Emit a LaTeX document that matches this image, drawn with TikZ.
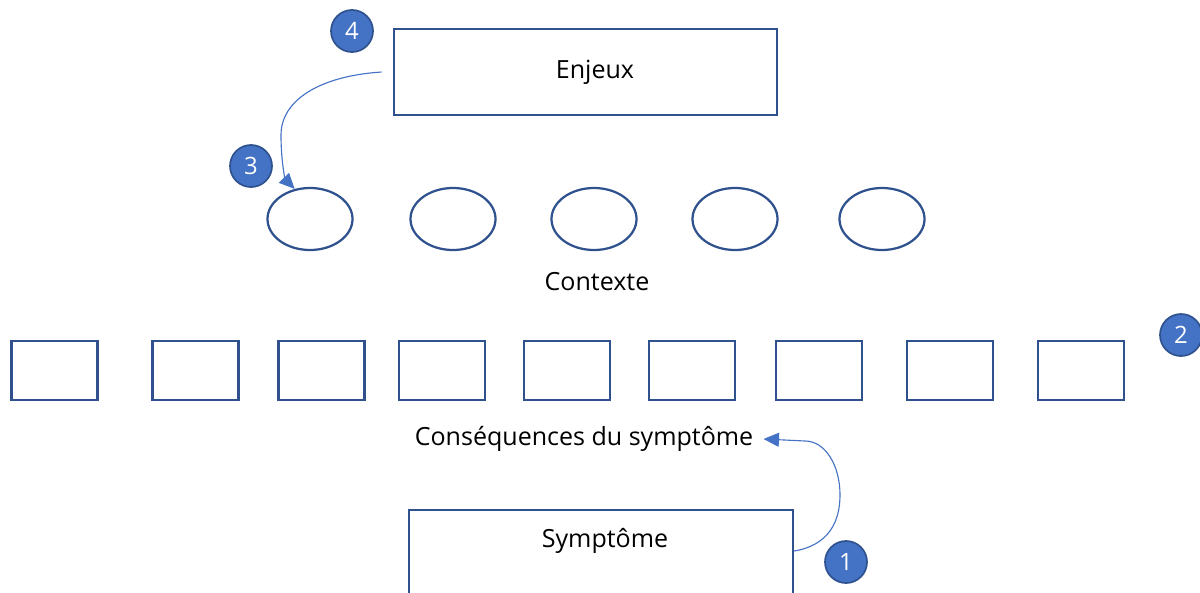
\documentclass[tikz,border=0pt]{standalone}
\usepackage{fontspec}
\setmainfont{Open Sans}
\usetikzlibrary{shapes.geometric,arrows.meta}
\definecolor{boxblue}{HTML}{2F528F}
\definecolor{arrowblue}{HTML}{4472C4}
\tikzset{
    box/.style={draw=boxblue, line width=1.6pt, rectangle, inner sep=0pt},
    oval/.style={draw=boxblue, line width=1.6pt, ellipse, inner sep=0pt,
        minimum width=2.125cm, minimum height=1.55cm},
    badge/.style={circle, fill=arrowblue, draw=boxblue, line width=1.2pt,
        minimum size=1.05cm, inner sep=0pt, text=white,
        font=\fontsize{17}{20}\selectfont},
    label text/.style={font=\fontsize{17.8}{21}\selectfont, inner sep=0pt},
    curve arrow/.style={draw=arrowblue, line width=0.8pt,
        -{Triangle[length=11pt,width=10pt]}}
}
\begin{document}
\begin{tikzpicture}[x=0.025cm,y=-0.025cm]
    \useasboundingbox (0,0) rectangle (1200,592);
    % top
    \node[box, minimum width=9.575cm, minimum height=2.15cm] (enjeux) at (585.5,72) {};
    \node[label text] at (595,72) {Enjeux};
    \node[badge] (b4) at (352,31) {4};
    \node[badge] (b3) at (251,166) {3};
    % contexte
    \foreach \x [count=\i] in {310,453,594,735,882}
        \node[oval] (ctx\i) at (\x,219) {};
    \node[label text] (contexte) at (597,282) {Contexte};
    % consequences
    \foreach \x [count=\i] in {54.5,195.5,321.5,442,567,692,819,950,1081}
        \node[box, minimum width=2.15cm, minimum height=1.475cm] (csq\i) at (\x,370.5) {};
    \node[badge] (b2) at (1181,335) {2};
    \node[label text] (conseq) at (584,439) {Conséquences du symptôme};
    % symptome
    \node[box, anchor=north, minimum width=9.6cm, minimum height=3cm] (symptome) at (601,509) {};
    \node[label text] at (605,541) {Symptôme};
    \node[badge] (b1) at (846,562) {1};
    % arrows
    \draw[curve arrow] ([xshift=-0.28cm]enjeux.west) .. controls (320,76) and (281,100) .. (281,135)
        .. controls (281,165) and (286,180) .. (ctx1.117);
    \draw[curve arrow] (symptome.east |- 0,551) .. controls (830,545) and (840,520) .. (840,495)
        .. controls (840,465) and (825,441) .. (805,441) -- ([xshift=0.25cm]conseq.east);
\end{tikzpicture}
\end{document}
